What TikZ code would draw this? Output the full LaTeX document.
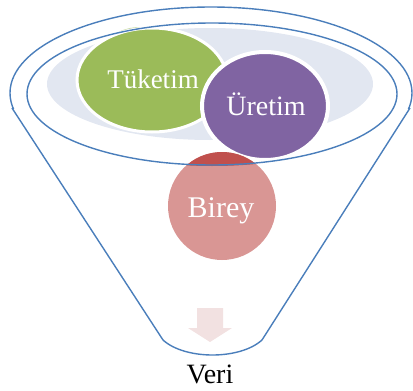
\documentclass[tikz,border=0pt]{standalone}
\usepackage{fontspec}
\setmainfont{Liberation Serif}
\definecolor{funnel}{HTML}{4A7EBB}
\definecolor{bowl}{HTML}{E2E7F1}
\definecolor{tgreen}{HTML}{9BBB59}
\definecolor{tgreenl}{HTML}{C8DAA4}
\definecolor{upurple}{HTML}{8064A2}
\definecolor{bpink}{HTML}{D99694}
\definecolor{bred}{HTML}{C0504D}
\definecolor{arrowc}{HTML}{F2E1E1}
\begin{document}
\begin{tikzpicture}[x=1pt,y=-1pt,
  funnelline/.style={draw=funnel,line width=1.4pt},
  lbl/.style={text=white,anchor=base,inner sep=0pt}]
\useasboundingbox (0,0) rectangle (413,391);
% bowl
\fill[bowl] (210,84) ellipse [x radius=163, y radius=56];
% Tuketim
\fill[tgreenl] (140,78) ellipse [x radius=50, y radius=51];
\draw[white,line width=3pt,fill=tgreen] (152,80) ellipse [x radius=75, y radius=52];
% Uretim
\draw[white,line width=4pt,fill=upurple] (265,106) ellipse [x radius=63, y radius=54];
% Birey
\fill[bpink] (222,206) circle (54);
\begin{scope}
  \clip (212,95) ellipse [x radius=185, y radius=71];
  \fill[bred] (222,206) circle (54);
\end{scope}
% arrow
\fill[arrowc] (197,308) -- (223,308) -- (223,328) -- (232,328) -- (210,342)
  -- (188,328) -- (197,328) -- cycle;
% funnel
\begin{scope}
  \clip (0,0) rectangle (413,108);
  \draw[funnelline] (211,93) ellipse [x radius=201, y radius=86];
\end{scope}
\coordinate (tl) at (12,108);
\coordinate (tr) at (410,108);
\coordinate (bl) at (163,340);
\coordinate (br) at (262,340);
\draw[funnelline,line join=round] (tl) -- (bl) .. controls (185,360) and (240,360) .. (br) -- (tr);
\draw[funnelline] (212,94) ellipse [x radius=185, y radius=71];
% texts
\node[lbl,font=\fontsize{27}{30}\selectfont] (tuk) at (153,88) {Tüketim};
\node[lbl,font=\fontsize{28}{30}\selectfont] (ure) at (266,115) {Üretim};
\node[lbl,font=\fontsize{30}{32}\selectfont] (bir) at (221,217) {Birey};
\node[lbl,text=black,font=\fontsize{28}{30}\selectfont] (veri) at (210,383) {Veri};
\end{tikzpicture}
\end{document}
